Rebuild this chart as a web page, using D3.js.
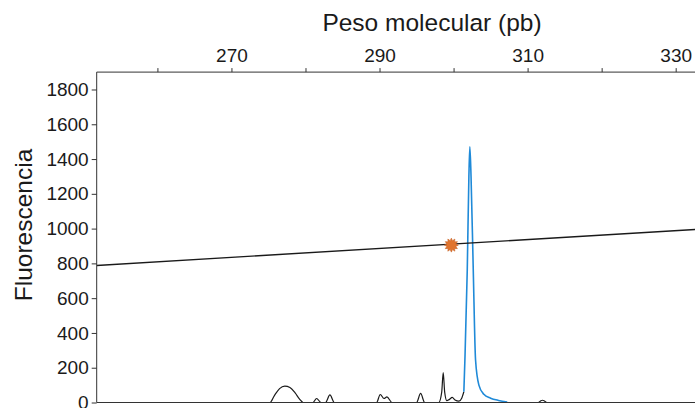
<!DOCTYPE html>
<html>
<head>
<meta charset="utf-8">
<script src="https://cdn.jsdelivr.net/npm/d3@7"></script>
<style>
  html, body { margin: 0; padding: 0; background: #fff; }
  svg { display: block; }
  text { font-family: "Liberation Sans", Arial, sans-serif; fill: #1a1a1a; }
</style>
</head>
<body>
<svg id="chart" width="695" height="408"></svg>
<script>
// Fragment sizes (pb) and fluorescence (RFU) of the black trace
const blackSize = [252, 275.2, 275.8, 276.5, 277.2, 277.9, 278.6, 279.2, 279.7,
  281.0, 281.5, 282.1, 282.7, 283.3, 283.9,
  289.6, 290.1, 290.6, 291.0, 291.7,
  295.0, 295.55, 296.1,
  298.0, 298.4, 298.6, 298.8, 299.1, 299.45, 299.82, 300.2, 300.72, 301.1, 301.39];
const blackRfu = [0, 0, 40, 80, 94, 86, 55, 20, 0,
  0, 23, 0, 0, 44, 0,
  0, 46, 23, 32, 0,
  0, 52, 0,
  0, 60, 172, 60, 10, 18, 29, 15, 8, 25, 62];

// Blue trace: the main allele peak
const blueSize = [301.39, 301.53, 301.85, 302.07, 302.2, 302.36, 302.66, 302.97, 303.42, 304.09, 305.0, 306.08, 307.25];
const blueRfu  = [62, 244, 762, 1300, 1470, 1300, 762, 244, 100, 47, 25, 12, 3];

// Small peak on the right
const rightSize = [311.5, 312.0, 312.55];
const rightRfu  = [0, 13, 0];

// Sizing line and the marked reference point
const lineSize = [251.8, 335];
const lineRfu  = [788, 1001];
const markSize = [299.7];
const markRfu  = [905];

// Axis ticks
const xTicks = [260, 270, 280, 290, 300, 310, 320, 330];
const xLabeled = [270, 290, 310, 330];
const yTicks = [0, 200, 400, 600, 800, 1000, 1200, 1400, 1600, 1800];

const svg = d3.select("#chart");
const mLeft = 96.7, mTop = 72.1, mBottom = 402.5, mRight = 712.7;

const x = d3.scaleLinear().domain([251.8, 335]).range([mLeft, mRight]);
const y = d3.scaleLinear().domain([0, 1900]).range([mBottom, mTop]);

svg.append("defs").append("clipPath").attr("id", "plot")
  .append("rect").attr("x", mLeft).attr("y", mTop - 2)
  .attr("width", mRight - mLeft).attr("height", mBottom - mTop + 4);

const plot = svg.append("g").attr("clip-path", "url(#plot)");

const zip = (a, b) => a.map((v, i) => [v, b[i]]);
const line = d3.line().x(d => x(d[0])).y(d => y(d[1])).curve(d3.curveMonotoneX);

// Bottom baseline
svg.append("line")
  .attr("x1", mLeft).attr("x2", mRight)
  .attr("y1", y(0)).attr("y2", y(0))
  .attr("stroke", "#333").attr("stroke-width", 1);

plot.append("path").datum(zip(blackSize, blackRfu))
  .attr("d", line).attr("fill", "none")
  .attr("stroke", "#1a1a1a").attr("stroke-width", 1.2);

plot.append("path").datum(zip(rightSize, rightRfu))
  .attr("d", line).attr("fill", "none")
  .attr("stroke", "#1a1a1a").attr("stroke-width", 1.2);

plot.append("path").datum(zip(blueSize, blueRfu))
  .attr("d", line).attr("fill", "none")
  .attr("stroke", "#1f8ad8").attr("stroke-width", 1.6);

plot.append("path").datum(zip(lineSize, lineRfu))
  .attr("d", d3.line().x(d => x(d[0])).y(d => y(d[1])))
  .attr("fill", "none").attr("stroke", "#1a1a1a").attr("stroke-width", 1.4);

// Burst marker
const burst = [];
const nPts = 12, rOut = 7, rIn = 4.6;
for (let i = 0; i < nPts * 2; i++) {
  const a = (Math.PI * i) / nPts;
  burst.push([a, i % 2 === 0 ? rOut : rIn]);
}
plot.selectAll(".mark").data(zip(markSize, markRfu)).join("path")
  .attr("class", "mark")
  .attr("transform", d => `translate(${x(d[0])},${y(d[1])})`)
  .attr("d", d3.lineRadial().angle(d => d[0]).radius(d => d[1]).curve(d3.curveLinearClosed)(burst))
  .attr("fill", "#e0742e").attr("stroke", "#c7652a").attr("stroke-width", 0.6);

// Top axis
const xAxis = d3.axisTop(x).tickValues(xTicks)
  .tickFormat(d => xLabeled.includes(d) ? d : "")
  .tickSize(4).tickPadding(6).tickSizeOuter(0);
const gx = svg.append("g").attr("transform", `translate(0,${mTop})`).call(xAxis);
gx.select(".domain").attr("d", `M${mLeft},0H${mRight}`).attr("stroke", "#333");
gx.selectAll(".tick line").attr("stroke", "#333");
gx.selectAll("text").attr("font-size", 19).attr("fill", "#1a1a1a")
  .style("font-family", "'Liberation Sans', Arial, sans-serif");

// Left axis
const yAxis = d3.axisLeft(y).tickValues(yTicks).tickFormat(d3.format("d"))
  .tickSize(5).tickPadding(3).tickSizeOuter(0);
const gy = svg.append("g").attr("transform", `translate(${mLeft},0)`).call(yAxis);
gy.select(".domain").attr("d", `M0,${mTop}V${mBottom}`).attr("stroke", "#333");
gy.selectAll(".tick line").attr("stroke", "#333");
gy.selectAll("text").attr("font-size", 19).attr("fill", "#1a1a1a")
  .style("font-family", "'Liberation Sans', Arial, sans-serif");

// Axis titles
svg.append("text").attr("x", 432).attr("y", 31)
  .attr("text-anchor", "middle").attr("font-size", 24.5)
  .text("Peso molecular (pb)");

svg.append("text")
  .attr("transform", "translate(32,225) rotate(-90)")
  .attr("text-anchor", "middle").attr("font-size", 24.5)
  .text("Fluorescencia");
</script>
</body>
</html>
